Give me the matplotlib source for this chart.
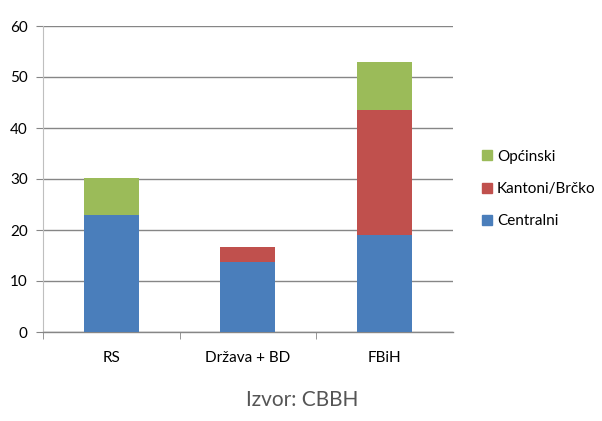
import matplotlib
matplotlib.use("Agg")
import matplotlib.pyplot as plt
from matplotlib.patches import Patch
import numpy as np

categories = ["RS", "Država + BD", "FBiH"]
centralni = [22.9, 13.8, 19.0]
kantoni = [0.0, 2.9, 24.5]
opcinski = [7.2, 0.0, 9.4]
series_names = ["Centralni", "Kantoni/Brčko", "Općinski"]
colors = ["#4A7EBB", "#C0504D", "#9BBB59"]
yticks = [0, 10, 20, 30, 40, 50, 60]

plt.rcParams['font.family'] = ['Lato', 'DejaVu Sans']

fig = plt.figure(figsize=(6.02, 4.21), dpi=100)
ax = fig.add_axes([43/602, 89/421, 409.5/602, 306/421])

x = np.arange(len(categories))
w = 0.4
c = np.array(centralni)
k = np.array(kantoni)
o = np.array(opcinski)
ax.bar(x, c, w, color=colors[0], zorder=3)
ax.bar(x, k, w, bottom=c, color=colors[1], zorder=3)
ax.bar(x, o, w, bottom=c + k, color=colors[2], zorder=3)

ax.set_xlim(-0.5, len(categories) - 0.5)
ax.set_ylim(0, 60)
ax.set_yticks(yticks)
ax.yaxis.grid(True, color="#868686", linewidth=1.0, zorder=0)
ax.tick_params(axis='y', length=5, color="#868686", labelsize=11, pad=6, labelcolor="#000000")
ax.set_xticks(x)
ax.set_xticklabels(categories, fontsize=11)
ax.tick_params(axis='x', length=0, pad=14)
ax.set_xticks(np.arange(-0.5, len(categories) - 0.5, 1.0), minor=True)
ax.tick_params(axis='x', which='minor', length=5, color="#868686")

for s in ["top", "right"]:
    ax.spines[s].set_visible(False)
ax.spines["left"].set_color("#BFBFBF")
ax.spines["bottom"].set_color("#868686")
ax.spines["bottom"].set_linewidth(1.0)

handles = [Patch(color=colors[2]), Patch(color=colors[1]), Patch(color=colors[0])]
labels = [series_names[2], series_names[1], series_names[0]]
fig.legend(handles, labels, loc="center left", bbox_to_anchor=(468/602, 1 - 189/421),
           frameon=False, fontsize=11, handlelength=0.65, handleheight=0.65,
           handletextpad=0.35, labelspacing=1.2)

fig.text(302/602, 21/421, "Izvor: CBBH", ha="center", va="center", fontsize=15, color="#555555")

fig.savefig("out.png", dpi=100)
